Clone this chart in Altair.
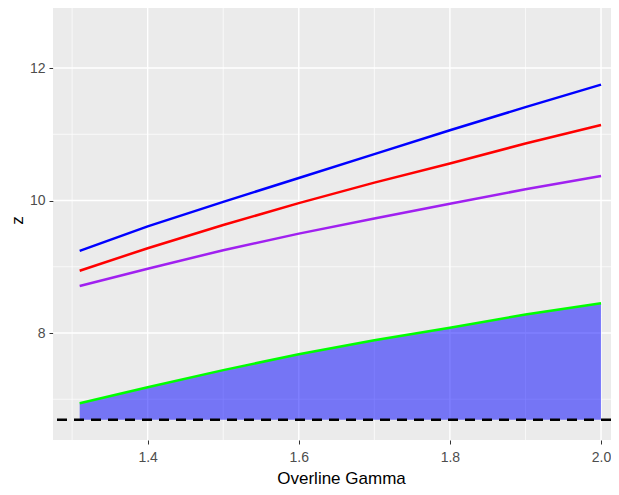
import altair as alt
import pandas as pd

# ---- data ----
gamma = [1.31, 1.4, 1.5, 1.6, 1.7, 1.8, 1.9, 2.0]
z_blue = [9.24, 9.61, 9.98, 10.34, 10.70, 11.06, 11.41, 11.75]
z_red = [8.94, 9.28, 9.63, 9.96, 10.27, 10.56, 10.86, 11.14]
z_purple = [8.71, 8.97, 9.25, 9.50, 9.73, 9.95, 10.17, 10.37]
z_green = [6.94, 7.18, 7.44, 7.68, 7.89, 8.08, 8.28, 8.45]
z_base = 6.69

series_names = ["blue", "red", "purple", "green"]
series_colors = ["#0000FF", "#FF0000", "#A020F0", "#00FF00"]

x_major = [1.4, 1.6, 1.8, 2.0]
x_minor = [1.3, 1.5, 1.7, 1.9]
y_major = [8, 10, 12]
y_minor = [7, 9, 11]

x_domain = [1.2747, 2.0132]
y_domain = [6.385, 12.906]

# ---- tables ----
rows = []
for name, vals in zip(series_names, [z_blue, z_red, z_purple, z_green]):
    for g, z in zip(gamma, vals):
        rows.append({"gamma": g, "z": z, "series": name})
lines_df = pd.DataFrame(rows)
area_df = pd.DataFrame({"gamma": gamma, "z": z_green, "base": [z_base] * len(gamma)})

X = alt.X(
    "gamma:Q",
    scale=alt.Scale(domain=x_domain, nice=False, zero=False),
    axis=alt.Axis(values=x_major, format=".1f", title="Overline Gamma",
                  grid=False, domain=False, titleX=288, titlePadding=6,
                  labelPadding=6),
)
Y = alt.Y(
    "z:Q",
    scale=alt.Scale(domain=y_domain, nice=False, zero=False),
    axis=alt.Axis(values=y_major, format="d", title="z",
                  grid=False, domain=False, titleY=212, titlePadding=3,
                  labelPadding=4),
)

minor_x = alt.Chart(pd.DataFrame({"gamma": x_minor})).mark_rule(
    color="white", strokeWidth=0.7).encode(x=X)
minor_y = alt.Chart(pd.DataFrame({"z": y_minor})).mark_rule(
    color="white", strokeWidth=0.7).encode(y=Y)
major_x = alt.Chart(pd.DataFrame({"gamma": x_major})).mark_rule(
    color="white", strokeWidth=1.4).encode(x=X)
major_y = alt.Chart(pd.DataFrame({"z": y_major})).mark_rule(
    color="white", strokeWidth=1.4).encode(y=Y)

area = alt.Chart(area_df).mark_area(color="#0000FF", opacity=0.5).encode(
    x=X, y=Y, y2="base:Q")

lines = alt.Chart(lines_df).mark_line(strokeWidth=2.5).encode(
    x=X, y=Y,
    color=alt.Color("series:N", scale=alt.Scale(domain=series_names, range=series_colors),
                    legend=None),
    detail="series:N",
)

dash = alt.Chart(pd.DataFrame({"z": [z_base]})).mark_rule(
    color="black", strokeWidth=2.4, strokeDash=[10, 7]).encode(y=Y)

chart = alt.layer(minor_x, minor_y, major_x, major_y, area, lines, dash).properties(
    width=558, height=432,
    padding={"left": 45, "top": 0, "right": 0, "bottom": 47},
    autosize=alt.AutoSizeParams(type="none"),
).configure_view(
    fill="#EBEBEB", strokeWidth=0
).configure_axis(
    labelFont="Liberation Sans", titleFont="Liberation Sans",
    labelFontSize=14, labelColor="#4D4D4D",
    titleFontSize=17, titleColor="black", titleFontWeight="normal",
    tickColor="#333333", tickSize=4, tickWidth=1,
)

chart.save("out.html", embed_options={"renderer": "svg", "actions": False})
